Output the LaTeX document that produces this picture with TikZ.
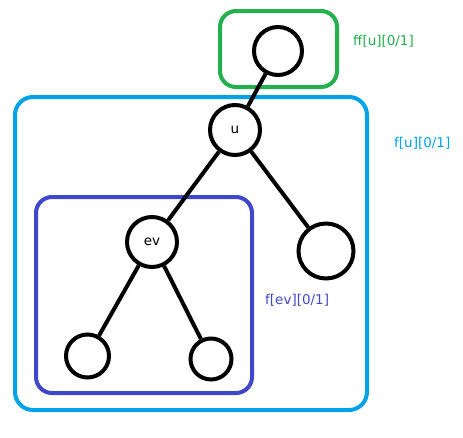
\documentclass[tikz,border=0pt]{standalone}
\usepackage{fontspec}
\setmainfont{DejaVu Sans}
\definecolor{ffgreen}{RGB}{34,177,76}
\definecolor{fblue}{RGB}{0,162,232}
\definecolor{evpurple}{RGB}{63,72,204}
\tikzset{
	vtx/.style={circle, draw=black, line width=4pt, inner sep=0pt, font=\fontsize{13.5}{15}\selectfont},
	edge/.style={line width=4pt},
	dpbox/.style={line width=4pt, rounded corners=16pt},
	dplabel/.style={anchor=west, inner sep=0pt, font=\fontsize{13.5}{15}\selectfont}
}
\begin{document}
\begin{tikzpicture}[x=1pt, y=-1pt]
	\useasboundingbox (0,0) rectangle (463,437);
	\draw[dpbox, ffgreen] (220,11) rectangle (337,87);
	\draw[dpbox, fblue, rounded corners=18pt] (15,97) rectangle (367,410);
	\draw[dpbox, evpurple] (36,197) rectangle (252,393);
	\node[vtx, minimum size=48pt] (top) at (278,51) {};
	\node[vtx, minimum size=50pt] (u) at (235,130) {u};
	\node[vtx, minimum size=50pt] (ev) at (152,242) {ev};
	\node[vtx, minimum size=55pt] (rc) at (326,251) {};
	\node[vtx, minimum size=43pt] (ll) at (87.5,356) {};
	\node[vtx, minimum size=41pt] (lr) at (211,359) {};
	\foreach \a/\b in {top/u, u/ev, u/rc, ev/ll, ev/lr}
		\draw[edge] (\a) -- (\b);
	\node[dplabel, text=ffgreen] (ffu) at (353,41) {ff[u][0/1]};
	\node[dplabel, text=fblue] (fu) at (394,143) {f[u][0/1]};
	\node[dplabel, text=evpurple] (fev) at (265,300) {f[ev][0/1]};
\end{tikzpicture}
\end{document}
